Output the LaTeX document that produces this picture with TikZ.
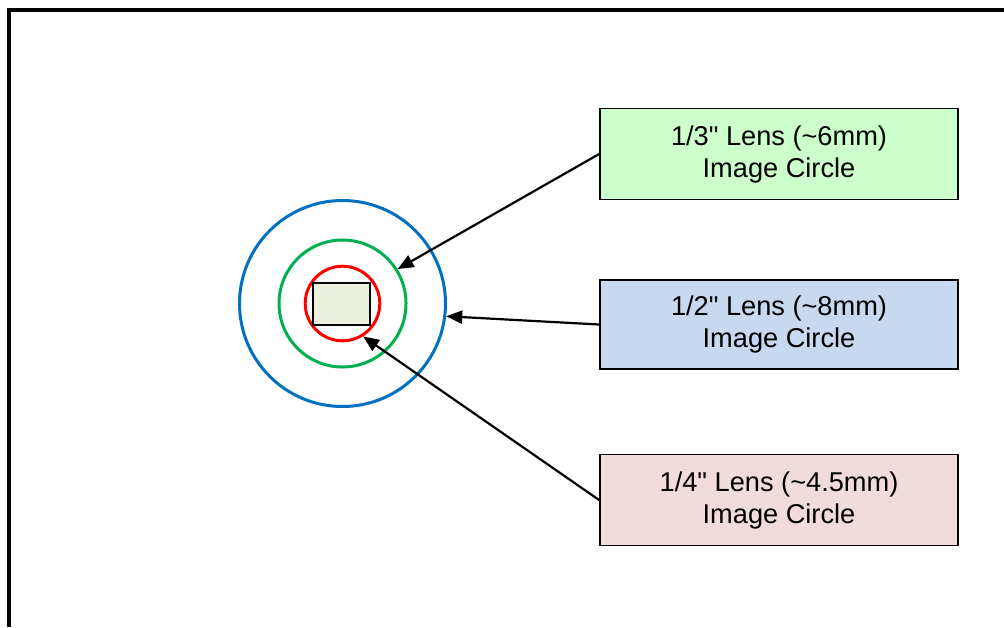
\documentclass[tikz,border=0pt]{standalone}
\usepackage{fontspec}
\setmainfont{Liberation Sans}[Ligatures=TeXOff]
\usepackage{xcolor}
\usetikzlibrary{arrows.meta}
\definecolor{ringblue}{HTML}{0070C0}
\definecolor{ringgreen}{HTML}{00B050}
\definecolor{ringred}{HTML}{FF0000}
\definecolor{sensorfill}{HTML}{EBF1DE}
\definecolor{boxgreen}{HTML}{CCFFCC}
\definecolor{boxblue}{HTML}{C6D9F0}
\definecolor{boxpink}{HTML}{F2DCDB}

\begin{document}
\begin{tikzpicture}[
  x=0.5pt,y=-0.5pt,
  ring/.style={circle,draw=#1,line width=1.5pt,inner sep=0pt},
  lensbox/.style={draw,line width=0.9pt,align=center,minimum width=179pt,
                  minimum height=45.5pt,inner sep=0pt,
                  font=\fontsize{13.6}{16}\selectfont},
  flow/.style={-{Triangle[length=8pt,width=6.5pt]},line width=1.1pt}
]
\useasboundingbox (0,0) rectangle (1004,627);
\draw[line width=2pt] (9,627) -- (9,10) -- (1004,10);
\node[ring=ringblue,minimum size=103pt] (blue) at (342.5,303.5) {};
\node[ring=ringgreen,minimum size=63.5pt] (green) at (342.5,303.5) {};
\node[ring=ringred,minimum size=37.3pt] (red) at (342.5,303.5) {};
\node[draw,line width=0.9pt,fill=sensorfill,minimum width=28.5pt,
      minimum height=21pt,inner sep=0pt] (sensor) at (341.5,304) {};
\node[lensbox,fill=boxgreen] (third) at (779,154)
  {1/3" Lens (\textasciitilde 6mm)\\Image Circle};
\node[lensbox,fill=boxblue,minimum height=44.5pt] (half) at (779,324.5)
  {1/2" Lens (\textasciitilde 8mm)\\Image Circle};
\node[lensbox,fill=boxpink] (quarter) at (779,500)
  {1/4" Lens (\textasciitilde 4.5mm)\\Image Circle};
\draw[flow] (third.west) -- (green.32);
\draw[flow] (half.west) -- (blue.-7);
\draw[flow] (quarter.west) -- (red.-58);
\end{tikzpicture}
\end{document}
